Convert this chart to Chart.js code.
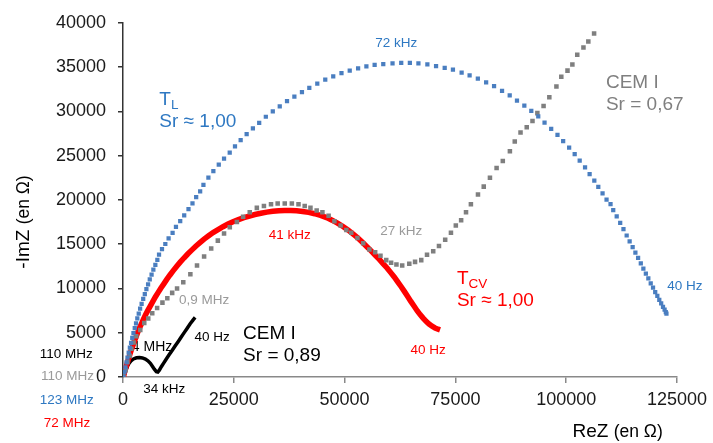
<!DOCTYPE html>
<html>
<head>
<meta charset="utf-8">
<script src="https://cdn.jsdelivr.net/npm/chart.js@4"></script>
<style>
  html, body { margin: 0; padding: 0; background: #fff; }
  canvas { display: block; }
</style>
</head>
<body>
<canvas id="nyquist" width="713" height="443"></canvas>
<script>
// axes
const xTicks = [0, 25000, 50000, 75000, 100000, 125000];
const yTicks = [0, 5000, 10000, 15000, 20000, 25000, 30000, 35000, 40000];

// T_L (blue squares)
const blueX = [100,340,560,790,1010,1280,1550,1820,2090,2360,2650,2940,3230,3550,3860,4200,4560,4920,5280,5660,
  6040,6450,6850,7300,7750,8130,8800,9550,10290,11190,11950,12910,13810,14780,15680,16510,17410,18150,19270,20390,
  21610,22800,24080,25270,26550,27900,29310,30730,32230,33800,35370,37010,38670,40380,42040,43840,45640,47440,49300,51160,
  53050,54920,56780,58730,60820,62780,64730,66660,68680,70640,72590,74450,76410,78210,80070,81940,83730,85530,87260,88900,
  90560,92130,93700,95120,96620,98040,99320,100670,101920,103050,104260,105290,106350,107250,108210,109110,110010,110620,111400,112190,
  112930,113650,114320,115000,115620,116230,116840,117420,117980,118540,119080,119600,120090,120570,121010,121440,121850,122210,122480,122630];
const blueY = [0,550,1100,1650,2200,2750,3310,3860,4410,4960,5510,6060,6610,7160,7710,8270,8820,9370,9920,10470,
  11020,11570,12120,12670,13220,13810,14440,15020,15650,16280,16940,17600,18260,18950,19620,20310,20970,21710,22510,23250,
  23990,24650,25350,26040,26750,27440,28070,28690,29390,30010,30560,31150,31660,32180,32650,33140,33580,33940,34310,34600,
  34860,35080,35260,35320,35410,35480,35480,35410,35300,35120,34900,34710,34380,34050,33690,33280,32840,32320,31810,31220,
  30640,30050,29420,28730,28020,27330,26640,25900,25160,24430,23660,22920,22180,21460,20750,20020,19510,18850,18130,17410,
  16700,15980,15320,14660,14050,13440,12840,12230,11680,11130,10580,10080,9590,9150,8710,8320,7930,7600,7330,7160];

// CEM I Sr = 0,67 (grey squares)
const grayX = [100,600,1000,1500,1900,2400,3000,3900,4800,5700,6600,7700,8900,10000,11100,12200,13600,15200,16700,18300,
  19900,21400,22800,24100,25700,27100,28600,30200,31800,33400,34900,36500,38100,39600,41000,42300,43700,45000,46400,47700,
  49100,50400,51500,52900,54200,55600,56900,58100,59400,60500,61700,63000,64600,65900,67300,68600,70000,71300,72700,74000,
  75100,76300,77400,78500,80100,81400,82800,84300,85700,87300,88400,89700,91100,92400,93500,94900,96200,97800,98900,100300,
  101400,102500,103900,105000,106300];
const grayY = [100,800,1700,2400,3200,3900,4600,5300,6100,6600,7200,7800,8400,8900,9500,10000,10700,11600,12600,13600,
  14500,15400,16200,16900,17500,18100,18600,19100,19300,19500,19600,19600,19600,19500,19300,19100,18800,18600,18200,17600,
  17100,16600,16300,15700,15100,14400,14100,13700,13200,12900,12700,12600,12800,13000,13200,13800,14200,14800,15500,16300,
  17100,17700,18600,19500,20600,21500,22500,23600,24400,25500,26600,27600,28200,28900,29800,30600,31600,32800,33900,34600,
  35300,36400,37200,37900,38800];

// T_CV (red)
const redX = [110,340,670,1010,1350,1680,2070,2450,2850,3260,3710,4160,4600,5120,5640,6180,6740,7300,7910,8530,
  9210,9880,10600,11340,12130,12910,13750,14600,15500,16420,17360,18300,19320,20330,21450,22570,23700,24820,26050,27290,
  28520,29760,31110,32450,33800,35150,36500,37850,39190,40540,41890,43240,44580,45930,47170,48400,49640,50760,51880,53010,
  54020,55030,56040,56940,57840,58730,59630,60420,61200,61990,62780,63520,64240,64950,65700,66370,67040,67720,68390,69060,
  69740,70410,71090,71540];
const redY = [0,550,1100,1650,2200,2760,3310,3860,4410,4960,5510,6010,6500,7050,7550,8040,8540,9040,9530,10030,
  10520,11020,11520,12010,12510,12970,13440,13890,14330,14770,15170,15570,15950,16310,16640,16970,17270,17520,17780,18000,
  18180,18350,18490,18620,18710,18780,18810,18810,18780,18700,18590,18440,18240,18000,17710,17380,17000,16610,16170,15700,
  15210,14710,14220,13740,13280,12780,12290,11790,11300,10740,10190,9640,9090,8540,7990,7490,7050,6650,6280,5980,
  5730,5540,5400,5320];

// CEM I Sr = 0,89 (black)
const blackX = [450,670,1010,1350,1800,2360,3030,3710,4380,5050,5620,6180,6630,7070,7520,7860,8200,8650,9210,9770,
  10440,11120,11790,12470,13140,13810,14490,15160,15830,16280];
const blackY = [330,770,1210,1540,1820,2040,2170,2200,2150,2020,1820,1540,1210,880,610,570,770,1160,1600,2040,
  2530,3030,3530,4020,4520,5010,5510,6010,6450,6720];

const FONT = "'Liberation Sans', Arial, sans-serif";
const BLUE = "#4A7EC0", BLUE_TXT = "#2E78C2", GRAY = "#7F7F7F", LGRAY = "#9A9A9A", RED = "#FF0000";

// frequency / sample labels, in data coordinates
const smallLabels = [
  ["72 kHz", 61650, 37690, BLUE_TXT],
  ["27 kHz", 62770, 16420, LGRAY],
  ["41 kHz", 37620, 16030, RED],
  ["0,9 MHz", 18300, 8710, LGRAY],
  ["40 Hz", 68840, 3030, RED],
  ["40 Hz", 126790, 10300, BLUE_TXT],
  ["40 Hz", 20100, 4520, "#000"],
  ["34 kHz", 9320, -1430, "#000"],
  ["110 MHz", -12800, 2530, "#000"],
  ["110 MHz", -12530, 80, LGRAY],
  ["123 MHz", -12690, -2640, BLUE_TXT],
  ["72 MHz", -12620, -5260, RED]
];
// [main, subscript, second line, x, y line1, y line2, colour]
const bigLabels = [
  ["T", "L", "Sr \u2248 1,00", 8200, 30750, 28210, BLUE_TXT],
  ["CEM I", "", "Sr = 0,67", 108970, 32620, 30195, GRAY],
  ["T", "CV", "Sr \u2248 1,00", 75350, 10470, 8045, RED],
  ["CEM I", "", "Sr = 0,89", 27100, 4265, 1796, "#000"]
];

const toPts = (xs, ys) => xs.map((x, i) => ({ x, y: ys[i] }));

const labelPlugin = {
  id: "labels",
  beforeDatasetsDraw(chart) {
    const { ctx, scales: { x, y } } = chart;
    ctx.save();
    ctx.font = "14px " + FONT;
    ctx.fillStyle = "#000";
    ctx.textAlign = "center";
    ctx.textBaseline = "middle";
    ctx.fillText("4 MHz", x.getPixelForValue(6560), y.getPixelForValue(3340));
    ctx.restore();
  },
  afterDatasetsDraw(chart) {
    const { ctx, scales: { x, y }, chartArea } = chart;
    ctx.save();
    ctx.textAlign = "center";
    ctx.textBaseline = "middle";
    ctx.font = "13.5px " + FONT;
    smallLabels.forEach(([t, vx, vy, c]) => {
      ctx.fillStyle = c;
      ctx.fillText(t, x.getPixelForValue(vx), y.getPixelForValue(vy));
    });

    ctx.textAlign = "left";
    ctx.textBaseline = "alphabetic";
    bigLabels.forEach(([main, sub, line2, vx, vy1, vy2, c]) => {
      const px = x.getPixelForValue(vx);
      ctx.fillStyle = c;
      ctx.font = "19px " + FONT;
      ctx.fillText(main, px, y.getPixelForValue(vy1));
      if (sub) {
        const w = ctx.measureText(main).width;
        ctx.font = "13.5px " + FONT;
        ctx.fillText(sub, px + w, y.getPixelForValue(vy1) + 4);
        ctx.font = "19px " + FONT;
      }
      ctx.fillText(line2, px, y.getPixelForValue(vy2));
    });

    // axis titles
    ctx.fillStyle = "#000";
    ctx.font = "19px " + FONT;
    let tx = 572.5;
    ctx.fillText("ReZ", tx, 437);
    tx += ctx.measureText("ReZ ").width;
    ctx.font = "17.5px " + FONT;
    ctx.fillText("(en \u03A9)", tx, 437);

    ctx.translate(29, 222);
    ctx.rotate(-Math.PI / 2);
    ctx.font = "19px " + FONT;
    const a = "-ImZ ";
    ctx.font = "17.5px " + FONT;
    const bw = ctx.measureText("(en \u03A9)").width;
    ctx.font = "19px " + FONT;
    const aw = ctx.measureText(a).width;
    const start = -(aw + bw) / 2;
    ctx.fillText(a, start, 0);
    ctx.font = "17.5px " + FONT;
    ctx.fillText("(en \u03A9)", start + aw, 0);
    ctx.restore();
  }
};

new Chart(document.getElementById("nyquist"), {
  type: "scatter",
  data: {
    datasets: [
      {
        label: "T_L",
        data: toPts(blueX, blueY),
        pointStyle: "rect",
        pointRadius: 3,
        pointBorderWidth: 0,
        backgroundColor: BLUE,
        borderColor: BLUE,
        showLine: false
      },
      {
        label: "CEM I 0,67",
        data: toPts(grayX, grayY),
        pointStyle: "rect",
        pointRadius: 3.2,
        pointBorderWidth: 0,
        backgroundColor: GRAY,
        borderColor: GRAY,
        showLine: false
      },
      {
        label: "T_CV",
        data: toPts(redX, redY),
        showLine: true,
        borderColor: RED,
        borderWidth: 5.5,
        pointRadius: 0,
        tension: 0
      },
      {
        label: "CEM I 0,89",
        data: toPts(blackX, blackY),
        showLine: true,
        borderColor: "#000",
        borderWidth: 3.5,
        pointRadius: 0,
        tension: 0
      }
    ]
  },
  options: {
    responsive: false,
    animation: false,
    devicePixelRatio: 1,
    layout: { padding: { top: 14, right: 34, left: 0, bottom: 0 } },
    plugins: { legend: { display: false }, tooltip: { enabled: false } },
    scales: {
      x: {
        type: "linear",
        min: 0,
        max: 125000,
        afterBuildTicks: s => { s.ticks = xTicks.map(v => ({ value: v })); },
        afterFit: s => { s.height = 66; },
        ticks: {
          callback: v => String(v),
          font: { family: FONT, size: 18 },
          color: "#1a1a1a",
          padding: 6,
          maxRotation: 0
        },
        grid: { drawOnChartArea: false, drawTicks: true, tickLength: 6, color: "#898989", lineWidth: 1.5 },
        border: { color: "#898989", width: 1.5 }
      },
      y: {
        type: "linear",
        min: 0,
        max: 40000,
        afterBuildTicks: s => { s.ticks = yTicks.map(v => ({ value: v })); },
        afterFit: s => { s.width = 123; },
        ticks: {
          callback: v => String(v),
          font: { family: FONT, size: 18 },
          color: "#1a1a1a",
          padding: 12
        },
        grid: { drawOnChartArea: false, drawTicks: true, tickLength: 5, color: "#333", lineWidth: 1.5 },
        border: { color: "#333", width: 1.5 }
      }
    }
  },
  plugins: [labelPlugin]
});
</script>
</body>
</html>
